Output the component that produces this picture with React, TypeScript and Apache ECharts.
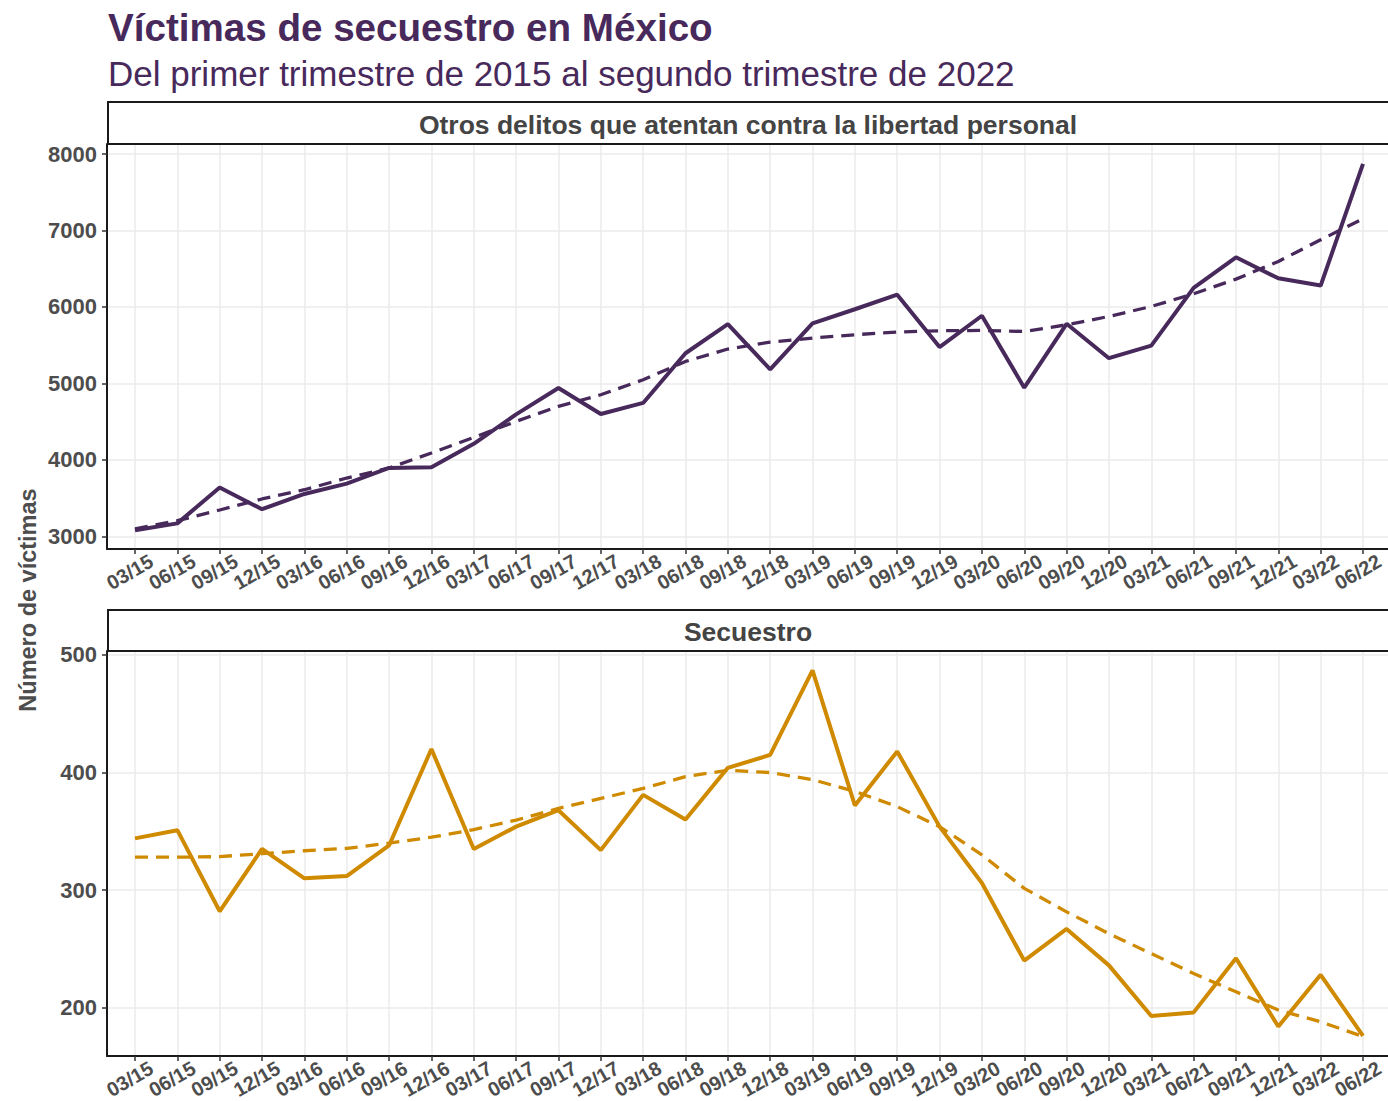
import React, { useEffect, useRef } from "react";
import * as echarts from "echarts";

const categories = [
  "03/15", "06/15", "09/15", "12/15",
  "03/16", "06/16", "09/16", "12/16",
  "03/17", "06/17", "09/17", "12/17",
  "03/18", "06/18", "09/18", "12/18",
  "03/19", "06/19", "09/19", "12/19",
  "03/20", "06/20", "09/20", "12/20",
  "03/21", "06/21", "09/21", "12/21",
  "03/22", "06/22",
];

const otrosValues = [
  3080, 3170, 3640, 3355, 3555, 3690, 3895, 3905, 4210, 4595,
  4940, 4600, 4745, 5395, 5775, 5185, 5785, 5970, 6160, 5475,
  5885, 4945, 5780, 5330, 5495, 6250, 6650, 6375, 6280, 7870,
];

const otrosTrend = [
  3097, 3205, 3345, 3489, 3610, 3763, 3894, 4090, 4294, 4503,
  4700, 4852, 5048, 5288, 5450, 5541, 5593, 5637, 5672, 5689,
  5693, 5680, 5767, 5876, 6007, 6172, 6364, 6595, 6878, 7153,
];

const secuestroValues = [
  344, 351, 282, 335, 310, 312, 338, 420, 335, 354,
  368, 334, 381, 360, 404, 415, 487, 372, 418, 354,
  306, 240, 267, 236, 193, 196, 242, 184, 228, 176,
];

const secuestroTrend = [
  328, 328, 328.5, 331, 333.5, 335.5, 340, 345, 351.5, 359.5,
  369.5, 378, 386.5, 396.5, 402, 400, 394, 384, 371, 354,
  330, 301.5, 281.5, 263, 246, 229, 213.5, 198, 188, 175.5,
];

const otrosTicks = [3000, 4000, 5000, 6000, 7000, 8000];
const secuestroTicks = [200, 300, 400, 500];

const TITLE = "Víctimas de secuestro en México";
const SUBTITLE = "Del primer trimestre de 2015 al segundo trimestre de 2022";
const PANEL_TOP = "Otros delitos que atentan contra la libertad personal";
const PANEL_BOTTOM = "Secuestro";
const Y_NAME = "Número de víctimas";

const PURPLE = "#48295b";
const GOLD = "#cf8a00";
const TEXT_GREY = "#4d4d4d";
const FONT = "'Liberation Sans', Arial, Helvetica, sans-serif";

export default function App() {
  const ref = useRef<HTMLDivElement>(null);

  useEffect(() => {
    if (!ref.current) return;
    const chart = echarts.init(ref.current, undefined, { renderer: "svg" });
    const idx = categories.map((_, i) => i);

    const xAxisBase = (gridIndex: number) => ({
      type: "value",
      gridIndex,
      min: -0.661,
      max: 29.59,
      minInterval: 1,
      maxInterval: 1,
      axisLine: {
        show: true,
        onZero: false,
        lineStyle: { color: "#1a1a1a", width: 2 },
      },
      axisTick: {
        show: true,
        customValues: idx,
        length: 5,
        lineStyle: { color: "#333333", width: 1.5 },
      },
      axisLabel: {
        customValues: idx,
        rotate: 30,
        align: "center",
        verticalAlign: "middle",
        padding: [0, 12, 0, 0],
        margin: 20,
        fontSize: 20,
        fontWeight: "bold",
        color: TEXT_GREY,
        fontFamily: FONT,
        hideOverlap: false,
        formatter: (v: number) =>
          Number.isInteger(v) && categories[v] ? categories[v] : "",
      },
      splitLine: { show: true, lineStyle: { color: "#ebebeb", width: 1.5 } },
    });

    const yAxisBase = (
      gridIndex: number,
      min: number,
      max: number,
      step: number,
      ticks: number[]
    ) => ({
      type: "value",
      gridIndex,
      min,
      max,
      minInterval: step,
      maxInterval: step,
      axisLine: {
        show: true,
        onZero: false,
        lineStyle: { color: "#1a1a1a", width: 2 },
      },
      axisTick: {
        show: true,
        customValues: ticks,
        length: 5,
        lineStyle: { color: "#333333", width: 1.5 },
      },
      axisLabel: {
        customValues: ticks,
        margin: 10,
        fontSize: 22,
        fontWeight: "bold",
        color: TEXT_GREY,
        fontFamily: FONT,
        formatter: (v: number) => (v % step === 0 ? String(v) : ""),
      },
      splitLine: { show: true, lineStyle: { color: "#ebebeb", width: 1.5 } },
    });

    const pairs = (arr: number[]) => arr.map((v, i) => [i, v]);

    const option = {
      animation: false,
      backgroundColor: "#ffffff",
      grid: [
        {
          left: 107,
          top: 144,
          width: 1281,
          height: 405,
          containLabel: false,
          outerBoundsMode: "none",
        },
        {
          left: 107,
          top: 651,
          width: 1281,
          height: 405,
          containLabel: false,
          outerBoundsMode: "none",
        },
      ],
      xAxis: [xAxisBase(0), xAxisBase(1)],
      yAxis: [
        yAxisBase(0, 2835, 8131, 1000, otrosTicks),
        yAxisBase(1, 158.9, 503.4, 100, secuestroTicks),
      ],
      series: [
        {
          type: "line",
          xAxisIndex: 0,
          yAxisIndex: 0,
          data: pairs(otrosTrend),
          symbol: "none",
          lineStyle: { color: PURPLE, width: 3.3, type: [13, 8] },
          z: 2,
        },
        {
          type: "line",
          xAxisIndex: 0,
          yAxisIndex: 0,
          data: pairs(otrosValues),
          symbol: "none",
          lineStyle: { color: PURPLE, width: 4 },
          z: 3,
        },
        {
          type: "line",
          xAxisIndex: 1,
          yAxisIndex: 1,
          data: pairs(secuestroTrend),
          symbol: "none",
          lineStyle: { color: GOLD, width: 3.3, type: [13, 8] },
          z: 2,
        },
        {
          type: "line",
          xAxisIndex: 1,
          yAxisIndex: 1,
          data: pairs(secuestroValues),
          symbol: "none",
          lineStyle: { color: GOLD, width: 4 },
          z: 3,
        },
      ],
      graphic: [
        {
          type: "text",
          x: 108,
          y: 27,
          style: {
            text: TITLE,
            fill: PURPLE,
            font: `bold 38.6px ${FONT}`,
            textVerticalAlign: "middle",
          },
        },
        {
          type: "text",
          x: 108,
          y: 73,
          style: {
            text: SUBTITLE,
            fill: PURPLE,
            font: `35px ${FONT}`,
            textVerticalAlign: "middle",
          },
        },
        {
          type: "rect",
          shape: { x: 108, y: 102, width: 1290, height: 42 },
          style: { fill: "#ffffff", stroke: "#1a1a1a", lineWidth: 2 },
          z: 10,
        },
        {
          type: "text",
          x: 748,
          y: 125,
          style: {
            text: PANEL_TOP,
            fill: "#444444",
            font: `bold 26.5px ${FONT}`,
            textAlign: "center",
            textVerticalAlign: "middle",
          },
          z: 11,
        },
        {
          type: "rect",
          shape: { x: 108, y: 610, width: 1290, height: 41 },
          style: { fill: "#ffffff", stroke: "#1a1a1a", lineWidth: 2 },
          z: 10,
        },
        {
          type: "text",
          x: 748,
          y: 632,
          style: {
            text: PANEL_BOTTOM,
            fill: "#444444",
            font: `bold 26.5px ${FONT}`,
            textAlign: "center",
            textVerticalAlign: "middle",
          },
          z: 11,
        },
        {
          type: "text",
          x: 28,
          y: 600,
          rotation: Math.PI / 2,
          style: {
            text: Y_NAME,
            fill: TEXT_GREY,
            font: `bold 23.5px ${FONT}`,
            textAlign: "center",
            textVerticalAlign: "middle",
          },
        },
      ],
    };

    chart.setOption(option as any);
    return () => chart.dispose();
  }, []);

  return (
    <div
      ref={ref}
      style={{ position: "fixed", left: 0, top: 0, width: 1388, height: 1101 }}
    />
  );
}
